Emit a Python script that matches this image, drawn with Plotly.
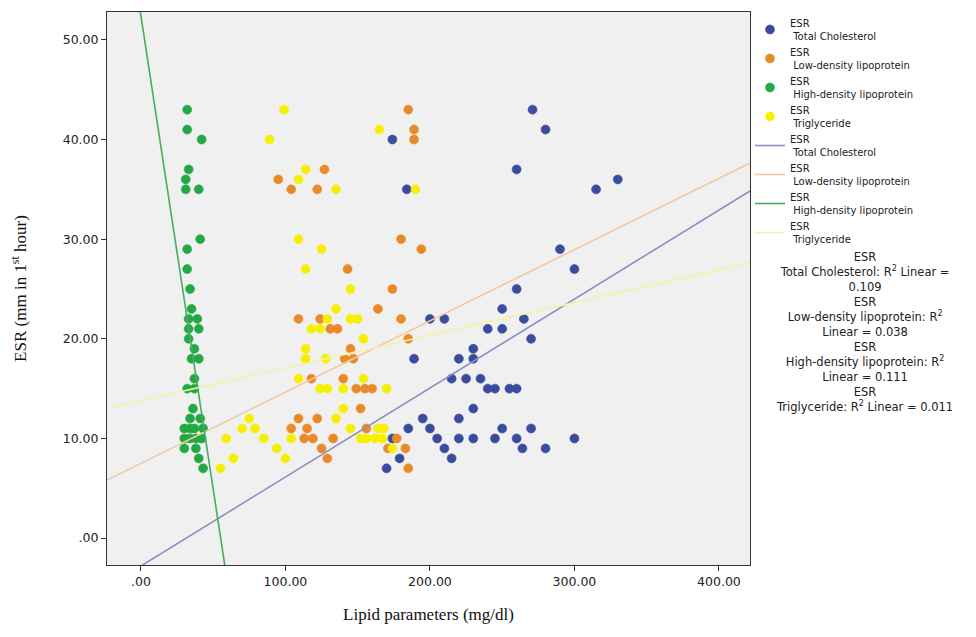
import plotly.graph_objects as go

# ---- data (x = lipid value mg/dl, y = ESR) ----
tc_x = [271, 280, 174, 260, 330, 315, 184, 290, 300, 260, 250, 200, 210, 265, 240, 250, 270, 230,
        189, 220, 230, 215, 225, 235, 240, 245, 255, 260, 230, 195, 220, 185, 200, 250, 270, 174,
        205, 220, 230, 245, 260, 300, 210, 264, 280, 179, 215, 170]
tc_esr = [43, 41, 40, 37, 36, 35, 35, 29, 27, 25, 23, 22, 22, 22, 21, 21, 20, 19,
          18, 18, 18, 16, 16, 16, 15, 15, 15, 15, 13, 12, 12, 11, 11, 11, 11, 10,
          10, 10, 10, 10, 10, 10, 9, 9, 9, 8, 8, 7]

ldl_x = [185, 189, 189, 127, 95, 104, 122, 180, 194, 143, 174, 164, 109, 124, 180, 131, 136, 185,
         145, 141, 147, 118, 140, 149, 155, 160, 152, 109, 122, 104, 115, 156, 113, 119, 133, 177,
         125, 171, 183, 129, 185]
ldl_esr = [43, 41, 40, 37, 36, 35, 35, 30, 29, 27, 25, 23, 22, 22, 22, 21, 21, 20,
           19, 18, 18, 16, 16, 15, 15, 15, 13, 12, 12, 11, 11, 11, 10, 10, 10, 10,
           9, 9, 9, 8, 7]

hdl_x = [32, 32, 42, 33, 31, 31, 40, 41, 32, 32, 34, 35, 33, 39, 33, 40, 33, 37, 35, 40,
         37, 32, 37, 36, 34, 41, 30, 34, 37, 43, 30, 34, 38, 42, 30, 38, 40, 43]
hdl_esr = [43, 41, 40, 37, 36, 35, 35, 30, 29, 27, 25, 23, 22, 22, 21, 21, 20, 19, 18, 18,
           16, 15, 15, 13, 12, 12, 11, 11, 11, 11, 10, 10, 10, 10, 9, 9, 8, 7]

tg_x = [99, 165, 89, 114, 109, 135, 190, 109, 125, 114, 145, 135, 129, 145, 150, 118, 124, 154,
        114, 114, 128, 109, 154, 124, 129, 140, 170, 140, 75, 135, 70, 79, 145, 164, 168, 59,
        85, 104, 152, 156, 162, 167, 94, 174, 64, 100, 55]
tg_esr = [43, 41, 40, 37, 36, 35, 35, 30, 29, 27, 25, 23, 22, 22, 22, 21, 21, 20,
          19, 18, 18, 16, 16, 15, 15, 15, 15, 13, 12, 12, 11, 11, 11, 11, 11, 10,
          10, 10, 10, 10, 10, 10, 9, 9, 8, 8, 7]

series_names = ["Total Cholesterol", "Low-density lipoprotein", "High-density lipoprotein", "Triglyceride"]
# linear fit lines as drawn in the reference (intercept, slope)
fit_intercept = [-2.8, 7.5, 52.4, 13.8]
fit_slope = [0.0893, 0.0715, -0.95, 0.0328]
r2_values = ["0.109", "0.038", "0.111", "0.011"]

x_ticks = [0, 100, 200, 300, 400]
x_ticktext = [".00", "100.00", "200.00", "300.00", "400.00"]
y_ticks = [0, 10, 20, 30, 40, 50]
y_ticktext = [".00", "10.00", "20.00", "30.00", "40.00", "50.00"]

x_range = [-23.5, 421.5]
y_range = [-2.7, 52.8]

marker_colors = ["#3A4C9E", "#E8892A", "#24A843", "#F6F000"]
line_colors = ["#8A90C4", "#F2C9A2", "#46AD62", "#F3F3A8"]

SANS = "DejaVu Sans"
SERIF = "Liberation Serif"

fig = go.Figure()
xs = [tc_x, ldl_x, hdl_x, tg_x]
ys = [tc_esr, ldl_esr, hdl_esr, tg_esr]
for i in range(4):
    fig.add_trace(go.Scatter(
        x=xs[i], y=ys[i], mode="markers",
        name="ESR<br>\u00a0" + series_names[i],
        marker=dict(size=9, color=marker_colors[i],
                    line=dict(width=0.6, color=marker_colors[i])),
    ))
for i in range(4):
    lx = list(x_range)
    ly = [fit_intercept[i] + fit_slope[i] * v for v in lx]
    fig.add_trace(go.Scatter(
        x=lx, y=ly, mode="lines",
        name="ESR<br>\u00a0" + series_names[i],
        line=dict(color=line_colors[i], width=1.6),
    ))

r2_text = "<br>".join([
    "ESR", "Total Cholesterol: R<sup>2</sup> Linear =", r2_values[0],
    "ESR", "Low-density lipoprotein: R<sup>2</sup>", "Linear = " + r2_values[1],
    "ESR", "High-density lipoprotein: R<sup>2</sup>", "Linear = " + r2_values[2],
    "ESR", "Triglyceride: R<sup>2</sup> Linear = " + r2_values[3],
])

fig.add_annotation(
    text=r2_text, xref="paper", yref="paper",
    x=1.1788, y=0.573, xanchor="center", yanchor="top",
    showarrow=False, align="center",
    font=dict(family=SANS, size=11.5, color="#222"),
)

fig.update_layout(
    width=968, height=629,
    margin=dict(l=99, r=226, t=2, b=72),
    paper_bgcolor="white",
    plot_bgcolor="#F0F0F0",
    showlegend=True,
    legend=dict(
        x=1.0, y=1.0036, xanchor="left", yanchor="top",
        bgcolor="rgba(0,0,0,0)", borderwidth=0,
        font=dict(family=SANS, size=10, color="#222"),
        tracegroupgap=0, itemwidth=30,
    ),
    xaxis=dict(
        range=x_range, tickvals=x_ticks, ticktext=x_ticktext,
        showgrid=False, zeroline=False,
        showline=True, linecolor="#333", linewidth=1, mirror=True,
        ticks="outside", ticklen=5, tickcolor="#333",
        tickfont=dict(family=SANS, size=12.5, color="#222"),
        title=dict(text="Lipid parameters (mg/dl)", standoff=20,
                   font=dict(family=SERIF, size=17, color="#111")),
    ),
    yaxis=dict(
        range=y_range, tickvals=y_ticks, ticktext=y_ticktext,
        showgrid=False, zeroline=False,
        showline=True, linecolor="#333", linewidth=1, mirror=True,
        ticks="outside", ticklen=5, tickcolor="#333",
        tickfont=dict(family=SANS, size=12.5, color="#222"),
        title=dict(text="ESR (mm in 1<sup>st</sup> hour)", standoff=34,
                   font=dict(family=SERIF, size=17, color="#111")),
    ),
)

fig.write_html("out.html")
